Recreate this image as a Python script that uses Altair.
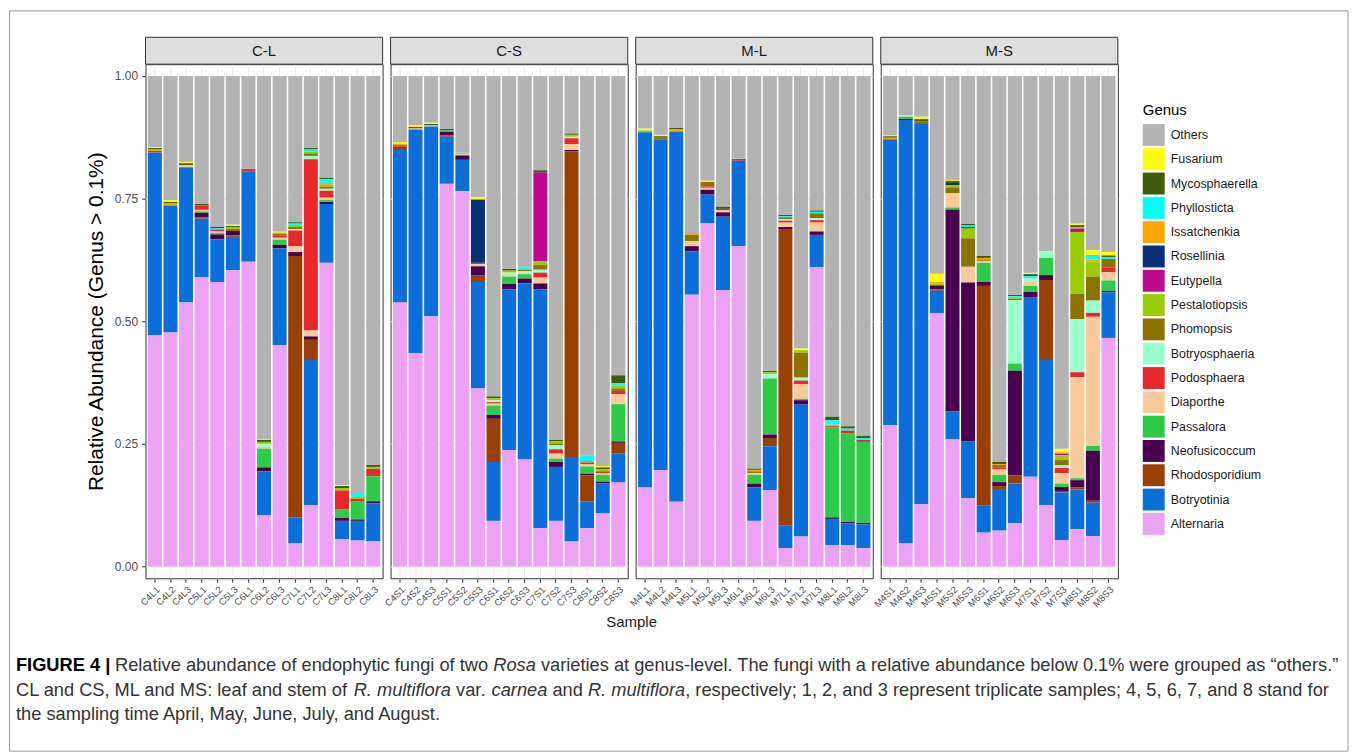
import altair as alt
import pandas as pd

panels = ["C-L", "C-S", "M-L", "M-S"]

samples_CL = ["C4L1", "C4L2", "C4L3", "C5L1", "C5L2", "C5L3", "C6L1", "C6L2", "C6L3",
              "C7L1", "C7L2", "C7L3", "C8L1", "C8L2", "C8L3"]
samples_CS = ["C4S1", "C4S2", "C4S3", "C5S1", "C5S2", "C5S3", "C6S1", "C6S2", "C6S3",
              "C7S1", "C7S2", "C7S3", "C8S1", "C8S2", "C8S3"]
samples_ML = ["M4L1", "M4L2", "M4L3", "M5L1", "M5L2", "M5L3", "M6L1", "M6L2", "M6L3",
              "M7L1", "M7L2", "M7L3", "M8L1", "M8L2", "M8L3"]
samples_MS = ["M4S1", "M4S2", "M4S3", "M5S1", "M5S2", "M5S3", "M6S1", "M6S2", "M6S3",
              "M7S1", "M7S2", "M7S3", "M8S1", "M8S2", "M8S3"]

# legend order (top -> bottom); stacking is the reverse (Alternaria at the bottom)
genera = ["Others", "Fusarium", "Mycosphaerella", "Phyllosticta", "Issatchenkia", "Rosellinia",
          "Eutypella", "Pestalotiopsis", "Phomopsis", "Botryosphaeria", "Podosphaera", "Diaporthe",
          "Passalora", "Neofusicoccum", "Rhodosporidium", "Botryotinia", "Alternaria"]
colors = ["#B3B3B3", "#FFFF00", "#3D5C0A", "#00FFFF", "#FFA500", "#06307A",
          "#BF0A8F", "#9ACD00", "#8C7300", "#99FFCC", "#E8282B", "#FACA9A",
          "#2DCB47", "#4A0050", "#993F00", "#0A6FDB", "#EEA2F6"]

# values per genus: C-L, C-S, M-L, M-S (15 samples each)
alternaria = [.472, .477, .538, .590, .580, .604, .621, .104, .451, .047, .125, .619, .056, .053, .051,
              .538, .435, .510, .780, .765, .363, .093, .237, .218, .078, .093, .051, .078, .108, .171,
              .161, .196, .132, .554, .700, .563, .653, .093, .156, .037, .061, .610, .043, .043, .037,
              .288, .047, .127, .516, .259, .139, .069, .073, .088, .183, .125, .054, .076, .062, .466]
botryotinia = [.372, .259, .276, .119, .087, .068, .184, .090, .197, .053, .296, .120, .037, .040, .078,
               .313, .456, .387, .096, .064, .217, .120, .328, .359, .487, .110, .172, .055, .061, .059,
               .724, .675, .755, .088, .058, .150, .174, .068, .089, .046, .269, .066, .054, .045, .049,
               .583, .863, .775, .046, .057, .116, .056, .085, .081, .365, .296, .097, .081, .068, .093]
rhodosporidium = [0, 0, 0, .003, 0, .003, 0, 0, 0, .533, .041, 0, 0, 0, 0,
                  .005, 0, 0, .003, 0, .014, .088, 0, 0, 0, 0, .623, .053, 0, .022,
                  0, 0, 0, 0, 0, 0, 0, 0, .017, .605, 0, 0, 0, 0, 0,
                  0, 0, 0, .003, 0, 0, .447, .006, .017, 0, .163, .003, .004, .004, 0]
neofusicoccum = [0, 0, 0, .009, .010, .009, 0, .008, .008, .008, .007, .004, .006, .003, .004,
                 0, 0, 0, .007, .009, .018, .008, .011, .010, .012, .010, .003, .003, .004, .003,
                 0, 0, 0, .011, .010, .009, 0, .008, .007, .004, .009, .007, .003, .003, .003,
                 0, .003, 0, .008, .411, .324, .008, .008, .213, .012, .010, .008, .015, .102, .003]
passalora = [0, 0, 0, .003, .003, 0, 0, .038, .010, 0, 0, .004, .017, .036, .051,
             0, 0, 0, .003, 0, 0, .019, .015, .009, 0, .007, 0, .015, .014, .076,
             0, 0, 0, 0, 0, 0, 0, .018, .114, 0, .003, 0, .183, .180, .165,
             0, .004, 0, 0, .005, 0, .039, .015, .015, .012, .035, .007, .004, .010, .021]
diaporthe = [0, 0, .004, .003, .003, 0, 0, .004, .004, .012, .012, .005, 0, 0, 0,
             0, .002, .002, 0, .003, .004, .004, .004, .003, .012, .010, .012, .004, .003, .020,
             0, 0, 0, .010, .004, .004, 0, .003, 0, .009, .030, .018, 0, 0, 0,
             0, 0, 0, 0, .029, .032, .004, .011, 0, .008, 0, .021, .206, .263, .017]
podosphaera = [.003, 0, 0, .009, .004, 0, .006, 0, .004, .032, .349, .014, .039, .006, .015,
               .003, 0, 0, 0, 0, 0, .003, 0, 0, .010, .009, .012, .004, .004, .007,
               0, 0, 0, 0, .003, .003, .004, 0, 0, .004, .007, .005, .003, .006, .004,
               0, 0, 0, 0, 0, 0, 0, .004, 0, 0, 0, .011, .010, .008, .010]
botryosphaeria = [0, 0, 0, 0, 0, 0, 0, .006, 0, .003, .007, .004, 0, 0, 0,
                  0, 0, 0, 0, 0, 0, .004, .004, .003, .006, .008, .003, 0, 0, 0,
                  0, 0, 0, 0, 0, 0, 0, 0, .009, .003, .006, .004, 0, 0, 0,
                  0, .003, 0, 0, 0, 0, 0, 0, .129, .008, .014, .005, .108, .025, 0]
phomopsis = [0, 0, 0, 0, 0, .004, 0, 0, .004, .004, .005, .004, 0, 0, 0,
             0, 0, 0, 0, 0, .003, 0, 0, .003, .010, .004, 0, 0, 0, .005,
             0, .003, 0, .013, .009, 0, 0, .004, 0, .004, .051, .010, 0, 0, 0,
             0, 0, .005, 0, .012, .058, .003, .005, .003, 0, 0, .011, .052, .049, .017]
pestalotiopsis = [0, 0, 0, 0, 0, .003, 0, .004, 0, .004, .004, .004, .005, .004, .004,
                  0, 0, 0, 0, 0, 0, .004, .004, 0, .007, .004, .004, .003, .004, .006,
                  .004, 0, 0, 0, 0, 0, 0, 0, .004, 0, .005, 0, 0, 0, 0,
                  0, 0, 0, .004, .004, .020, 0, 0, .003, 0, 0, .010, .126, .031, 0]
eutypella = [0, 0, 0, 0, 0, 0, 0, 0, 0, 0, 0, 0, 0, 0, 0,
             0, 0, 0, 0, 0, 0, 0, 0, 0, .181, 0, 0, 0, 0, 0,
             0, 0, 0, 0, 0, 0, 0, 0, 0, 0, 0, 0, 0, 0, 0,
             0, 0, 0, 0, 0, 0, 0, 0, 0, 0, 0, .003, .007, 0, 0]
rosellinia = [0, 0, 0, 0, 0, 0, 0, 0, 0, 0, 0, 0, 0, 0, 0,
              0, 0, 0, 0, 0, .129, 0, 0, 0, 0, 0, 0, 0, 0, 0,
              0, 0, 0, 0, 0, 0, 0, 0, 0, 0, 0, 0, 0, 0, 0,
              0, 0, 0, 0, .005, .003, 0, 0, 0, 0, 0, 0, 0, 0, 0]
issatchenkia = [.003, .004, 0, 0, 0, 0, 0, 0, .003, 0, 0, .004, 0, 0, 0,
                .003, 0, 0, 0, 0, 0, 0, 0, 0, 0, 0, 0, 0, 0, 0,
                0, 0, .004, .004, 0, 0, 0, .003, 0, 0, 0, 0, .003, 0, 0,
                .003, 0, 0, .003, 0, 0, .003, .002, 0, 0, 0, .003, .003, .004, 0]
phyllosticta = [0, 0, 0, 0, .003, 0, 0, 0, 0, .003, .004, .008, 0, .008, 0,
                0, 0, 0, 0, .003, 0, 0, 0, .004, 0, 0, 0, .011, 0, .005,
                0, 0, 0, 0, 0, 0, 0, 0, 0, .002, 0, .003, .009, .004, .004,
                0, 0, 0, 0, 0, .003, 0, 0, .002, .004, 0, 0, 0, .009, .004]
mycosphaerella = [.003, .003, .004, .003, .003, .003, 0, .004, 0, .003, .003, .003, .004, 0, .004,
                  0, .003, .003, .003, 0, 0, .004, .004, 0, .005, .003, .003, 0, .004, .016,
                  0, .003, .003, 0, 0, .005, 0, .003, .003, .003, 0, .003, .008, .005, .004,
                  .003, 0, .005, 0, .004, .004, .004, .004, .003, .004, 0, 0, .004, 0, .003]
fusarium = [.002, .004, .003, 0, 0, .003, 0, .002, .002, 0, 0, 0, .002, 0, 0,
            .003, .003, .003, 0, 0, .005, 0, 0, 0, 0, 0, 0, 0, .003, 0,
            .004, .003, 0, 0, .003, 0, 0, 0, 0, 0, .004, 0, 0, 0, 0,
            .002, 0, .005, .017, .002, 0, 0, 0, 0, .003, 0, .007, .003, .010, .007]

# ---- build long table ----
samples = samples_CL + samples_CS + samples_ML + samples_MS
panel_of = [p for p in panels for _ in range(15)]
series = {
    "Fusarium": fusarium, "Mycosphaerella": mycosphaerella, "Phyllosticta": phyllosticta,
    "Issatchenkia": issatchenkia, "Rosellinia": rosellinia, "Eutypella": eutypella,
    "Pestalotiopsis": pestalotiopsis, "Phomopsis": phomopsis, "Botryosphaeria": botryosphaeria,
    "Podosphaera": podosphaera, "Diaporthe": diaporthe, "Passalora": passalora,
    "Neofusicoccum": neofusicoccum, "Rhodosporidium": rhodosporidium,
    "Botryotinia": botryotinia, "Alternaria": alternaria,
}
rows = []
for i, s in enumerate(samples):
    total = 0.0
    for g in genera[1:]:
        v = series[g][i]
        total += v
        rows.append({"panel": panel_of[i], "sample": s, "genus": g, "value": v,
                     "stack": len(genera) - 1 - genera.index(g)})
    rows.append({"panel": panel_of[i], "sample": s, "genus": "Others",
                 "value": round(1 - total, 4), "stack": len(genera) - 1})
df = pd.DataFrame(rows)

# ---- caption layout helper (Arial / Liberation Sans advance widths) ----
_groups = {222: "ijl", 260: "|", 278: " !,.:;ftI/", 333: "()-r“”", 500: "cksvxyzJ",
           556: "0123456789abdeghnopquL", 611: "FTZ", 667: "ABEKPSVXY", 722: "CDHNRUw",
           778: "GOQ", 833: "mM", 889: "%", 944: "W"}
CW = {c: w for w, cs in _groups.items() for c in cs}


def em(t):
    return sum(CW.get(c, 556) for c in t) / 1000.0


cap_lines = [
    [("FIGURE 4 |", "bold", "normal", False),
     ("Relative abundance of endophytic fungi of two", "normal", "normal", True),
     ("Rosa", "normal", "italic", True),
     ("varieties at genus-level. The fungi with a relative abundance below 0.1% were grouped as “others.”",
      "normal", "normal", True)],
    [("CL and CS, ML and MS: leaf and stem of", "normal", "normal", False),
     ("R. multiflora", "normal", "italic", True),
     ("var.", "normal", "normal", True),
     ("carnea", "normal", "italic", True),
     ("and", "normal", "normal", True),
     ("R. multiflora", "normal", "italic", True),
     (", respectively; 1, 2, and 3 represent triplicate samples; 4, 5, 6, 7, and 8 stand for",
      "normal", "normal", False)],
    [("the sampling time April, May, June, July, and August.", "normal", "normal", False)],
]
line1_em = sum(em(t) + (0.278 if sp else 0) for t, _, _, sp in cap_lines[0])
CAP_FS = 1328.0 / line1_em

PX0, PY0 = 145, 62          # page position of the first panel's plot area
W_PANEL, H_PANEL = 238, 516
cap_y = [671.5, 696, 720.5]  # page baselines

FONT = "Liberation Sans"

# ---- layers ----
bars = alt.Chart().mark_bar().encode(
    x=alt.X("sample:N", sort=samples,
            scale=alt.Scale(paddingInner=0.1, paddingOuter=0.15),
            axis=alt.Axis(title=None, labelAngle=315, labelFontSize=9.5, labelColor="#4d4d4d",
                          tickColor="#333333", tickSize=4, labelPadding=2, grid=True,
                          gridColor="#ebebeb", domain=False)),
    y=alt.Y("value:Q", stack="zero",
            scale=alt.Scale(domain=[-0.024, 1.024], nice=False, zero=False),
            axis=alt.Axis(values=[0, 0.25, 0.5, 0.75, 1], format=".2f",
                          title="Relative Abundance (Genus > 0.1%)", titleFontSize=21,
                          titleFontWeight="normal", titleColor="#000000", titlePadding=8,
                          labelFontSize=12, labelColor="#4d4d4d", labelPadding=4,
                          tickColor="#333333", tickSize=4, grid=True, gridColor="#ebebeb",
                          domain=False)),
    color=alt.Color("genus:N", scale=alt.Scale(domain=genera, range=colors),
                    legend=alt.Legend(title="Genus", orient="none",
                                      legendX=1146 - PX0, legendY=101 - PY0,
                                      titleFontSize=15, titleFontWeight="normal",
                                      titleColor="#000000", titlePadding=6,
                                      labelFontSize=12.5, labelColor="#1a1a1a",
                                      labelOffset=6, symbolType="square", symbolSize=484,
                                      symbolStrokeWidth=0, rowPadding=2.4)),
    order=alt.Order("stack:Q", sort="ascending"),
)

per_panel = alt.Chart().transform_aggregate(n="count()", groupby=["panel"])
strip_rect = per_panel.mark_rect(fill="#dedede", stroke="#333333", strokeWidth=1).encode(
    x=alt.value(0), x2=alt.value(W_PANEL), y=alt.value(-27), y2=alt.value(0))
strip_text = per_panel.mark_text(fontSize=15, color="#1a1a1a", baseline="middle",
                                 align="center").encode(
    x=alt.value(W_PANEL / 2), y=alt.value(-13.5), text="panel:N")

first = alt.Chart().transform_filter("datum.panel == 'C-L'").transform_aggregate(n="count()")

layers = [bars, strip_rect, strip_text]

layers.append(first.mark_text(fontSize=15, color="#1a1a1a", align="center",
                              baseline="alphabetic").encode(
    x=alt.value(633 - PX0), y=alt.value(626.5 - PY0), text=alt.value("Sample")))

for li, segs in enumerate(cap_lines):
    x = 15.0
    for t, wt, st, sp in segs:
        if sp:
            x += 0.278 * CAP_FS
        layers.append(first.mark_text(fontSize=CAP_FS, align="left", baseline="alphabetic",
                                      fontWeight=wt, fontStyle=st,
                                      color="#000000" if wt == "bold" else "#333333").encode(
            x=alt.value(x - PX0), y=alt.value(cap_y[li] - PY0), text=alt.value(t)))
        x += em(t) * CAP_FS

layers.append(first.mark_rect(fillOpacity=0, stroke="#9a9a9a", strokeWidth=1).encode(
    x=alt.value(8.5 - PX0), x2=alt.value(1352 - PX0),
    y=alt.value(8.5 - PY0), y2=alt.value(751.5 - PY0)))

chart = alt.layer(*layers, data=df).properties(
    width=W_PANEL, height=H_PANEL
).facet(
    column=alt.Column("panel:N", sort=panels, title=None, header=alt.Header(labels=False)),
    spacing=8, bounds="flush"
).resolve_scale(x="independent").properties(
    padding={"left": 0, "top": 0, "right": 0, "bottom": 0}
).configure(font=FONT).configure_view(stroke="#333333", strokeWidth=1, fill="white")

chart.save("out.html", embed_options={"renderer": "svg", "actions": False})
